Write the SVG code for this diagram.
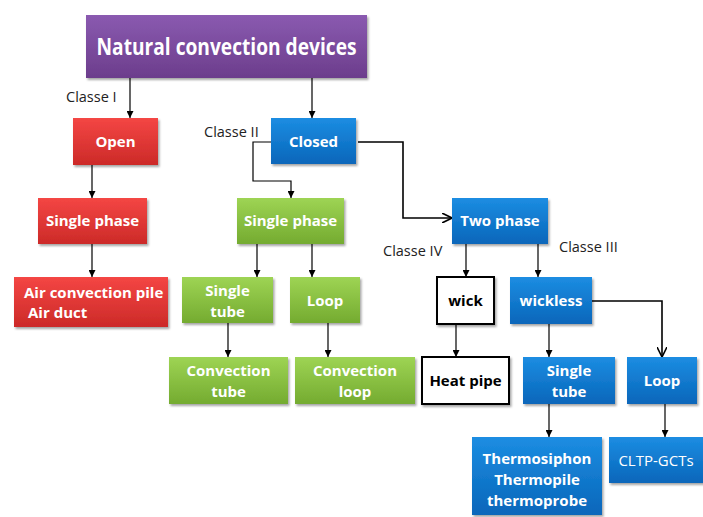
<svg xmlns="http://www.w3.org/2000/svg" width="703" height="517" viewBox="0 0 703 517">
<defs>
  <linearGradient id="gPurple" x1="0" y1="0" x2="0" y2="1"><stop offset="0" stop-color="#8A5AB0"/><stop offset="1" stop-color="#6C3D8C"/></linearGradient>
  <linearGradient id="gRed" x1="0" y1="0" x2="0" y2="1"><stop offset="0" stop-color="#F44644"/><stop offset="1" stop-color="#CC2A28"/></linearGradient>
  <linearGradient id="gBlue" x1="0" y1="0" x2="0" y2="1"><stop offset="0" stop-color="#1C8DE2"/><stop offset="1" stop-color="#0866BA"/></linearGradient>
  <linearGradient id="gGreen" x1="0" y1="0" x2="0" y2="1"><stop offset="0" stop-color="#9ED454"/><stop offset="1" stop-color="#74AB30"/></linearGradient>
  <filter id="sh" x="-10%" y="-10%" width="130%" height="140%"><feDropShadow dx="1.5" dy="2" stdDeviation="1.2" flood-color="#000" flood-opacity="0.35"/></filter>
  <marker id="arr" viewBox="0 0 10 10" refX="10" refY="5" markerWidth="7" markerHeight="7" markerUnits="userSpaceOnUse" orient="auto"><path d="M0,0 L10,5 L0,10 Z" fill="#000"/></marker>
  <marker id="arrL" viewBox="0 0 10 10" refX="9" refY="5" markerWidth="10" markerHeight="10" markerUnits="userSpaceOnUse" orient="auto"><path d="M0,0 L10,5 L0,10" fill="none" stroke="#000" stroke-width="1.6"/></marker>
</defs>
<style>
  .box{filter:url(#sh)}
  .p{fill:url(#gPurple)} .r{fill:url(#gRed)} .b{fill:url(#gBlue)} .g{fill:url(#gGreen)}
  .w{fill:#fff;stroke:#000;stroke-width:2}
  .t{font-family:"Open Sans","Liberation Sans",sans-serif;font-weight:700;font-size:15px;fill:#fff;text-anchor:middle}
  .big{font-size:23px}
  .tk{fill:#000}
  .n{font-weight:400}
  .lab{font-family:"Open Sans","Liberation Sans",sans-serif;font-size:14.5px;fill:#222}
  .c{fill:none;stroke:#000;stroke-width:1.2}
  .c2{fill:none;stroke:#000;stroke-width:1.6}
</style>
<g id="connectors">
  <line class="c" x1="130" y1="78" x2="130" y2="118" marker-end="url(#arr)"/>
  <line class="c" x1="312" y1="78" x2="312" y2="118" marker-end="url(#arr)"/>
  <line class="c" x1="92" y1="165" x2="92" y2="198" marker-end="url(#arr)"/>
  <line class="c" x1="92" y1="244" x2="92" y2="277" marker-end="url(#arr)"/>
  <path class="c" d="M271,142 H253 V181 H291 V198" marker-end="url(#arr)"/>
  <path class="c2" d="M358,142 H403 V218 H451" marker-end="url(#arrL)"/>
  <line class="c" x1="257" y1="244" x2="257" y2="277" marker-end="url(#arr)"/>
  <line class="c" x1="312" y1="244" x2="312" y2="277" marker-end="url(#arr)"/>
  <line class="c" x1="228" y1="323" x2="228" y2="357" marker-end="url(#arr)"/>
  <line class="c" x1="328" y1="323" x2="328" y2="357" marker-end="url(#arr)"/>
  <line class="c" x1="466" y1="244" x2="466" y2="277" marker-end="url(#arr)"/>
  <line class="c" x1="538" y1="244" x2="538" y2="277" marker-end="url(#arr)"/>
  <line class="c" x1="456" y1="324" x2="456" y2="357" marker-end="url(#arr)"/>
  <line class="c" x1="549" y1="324" x2="549" y2="357" marker-end="url(#arr)"/>
  <path class="c2" d="M592,301 H662 V356" marker-end="url(#arrL)"/>
  <line class="c" x1="549" y1="404" x2="549" y2="437" marker-end="url(#arr)"/>
  <line class="c" x1="665" y1="404" x2="665" y2="437" marker-end="url(#arr)"/>
</g>
<g id="labels">
  <text class="lab" x="66" y="102">Classe I</text>
  <text class="lab" x="204" y="137">Classe II</text>
  <text class="lab" x="383" y="256">Classe IV</text>
  <text class="lab" x="559" y="252">Classe III</text>
</g>
<g id="root"><rect class="box p" x="86" y="15" width="281" height="63"/><text class="t big" x="226.5" y="55" textLength="260" lengthAdjust="spacingAndGlyphs">Natural convection devices</text></g>
<g id="open"><rect class="box r" x="73" y="118" width="85" height="47"/><text class="t" x="115.5" y="147">Open</text></g>
<g id="closed"><rect class="box b" x="271" y="118" width="85" height="46"/><text class="t" x="313.5" y="147">Closed</text></g>
<g id="single-phase-red"><rect class="box r" x="38" y="198" width="109" height="46"/><text class="t" x="92.5" y="226">Single phase</text></g>
<g id="single-phase-green"><rect class="box g" x="237" y="198" width="107" height="46"/><text class="t" x="290.5" y="226">Single phase</text></g>
<g id="two-phase"><rect class="box b" x="452" y="198" width="96" height="46"/><text class="t" x="500" y="226">Two phase</text></g>
<g id="air"><rect class="box r" x="14" y="277" width="154" height="50"/><text class="t" x="24" y="298" style="text-anchor:start">Air convection pile</text><text class="t" x="28" y="318" style="text-anchor:start">Air duct</text></g>
<g id="single-tube-green"><rect class="box g" x="182" y="277" width="91" height="46"/><text class="t" x="227.5" y="296">Single</text><text class="t" x="227.5" y="317">tube</text></g>
<g id="loop-green"><rect class="box g" x="290" y="277" width="70" height="46"/><text class="t" x="325" y="306">Loop</text></g>
<g id="wick"><rect class="box w" x="437" y="277" width="57" height="47"/><text class="t tk" x="465.5" y="306">wick</text></g>
<g id="wickless"><rect class="box b" x="510" y="277" width="82" height="47"/><text class="t" x="551" y="306">wickless</text></g>
<g id="conv-tube"><rect class="box g" x="169" y="357" width="119" height="47"/><text class="t" x="228.5" y="376">Convection</text><text class="t" x="228.5" y="397">tube</text></g>
<g id="conv-loop"><rect class="box g" x="295" y="357" width="120" height="47"/><text class="t" x="355" y="376">Convection</text><text class="t" x="355" y="397">loop</text></g>
<g id="heat-pipe"><rect class="box w" x="422" y="357" width="87" height="47"/><text class="t tk" x="465.5" y="386">Heat pipe</text></g>
<g id="single-tube-blue"><rect class="box b" x="523" y="357" width="92" height="47"/><text class="t" x="569" y="376">Single</text><text class="t" x="569" y="397">tube</text></g>
<g id="loop-blue"><rect class="box b" x="627" y="357" width="70" height="47"/><text class="t" x="662" y="386">Loop</text></g>
<g id="thermo"><rect class="box b" x="472" y="437" width="130" height="78"/><text class="t" x="537" y="464">Thermosiphon</text><text class="t" x="537" y="485">Thermopile</text><text class="t" x="537" y="506">thermoprobe</text></g>
<g id="cltp"><rect class="box b" x="609" y="437" width="100" height="46"/><text class="t n" x="656" y="466">CLTP-GCTs</text></g>
</svg>
